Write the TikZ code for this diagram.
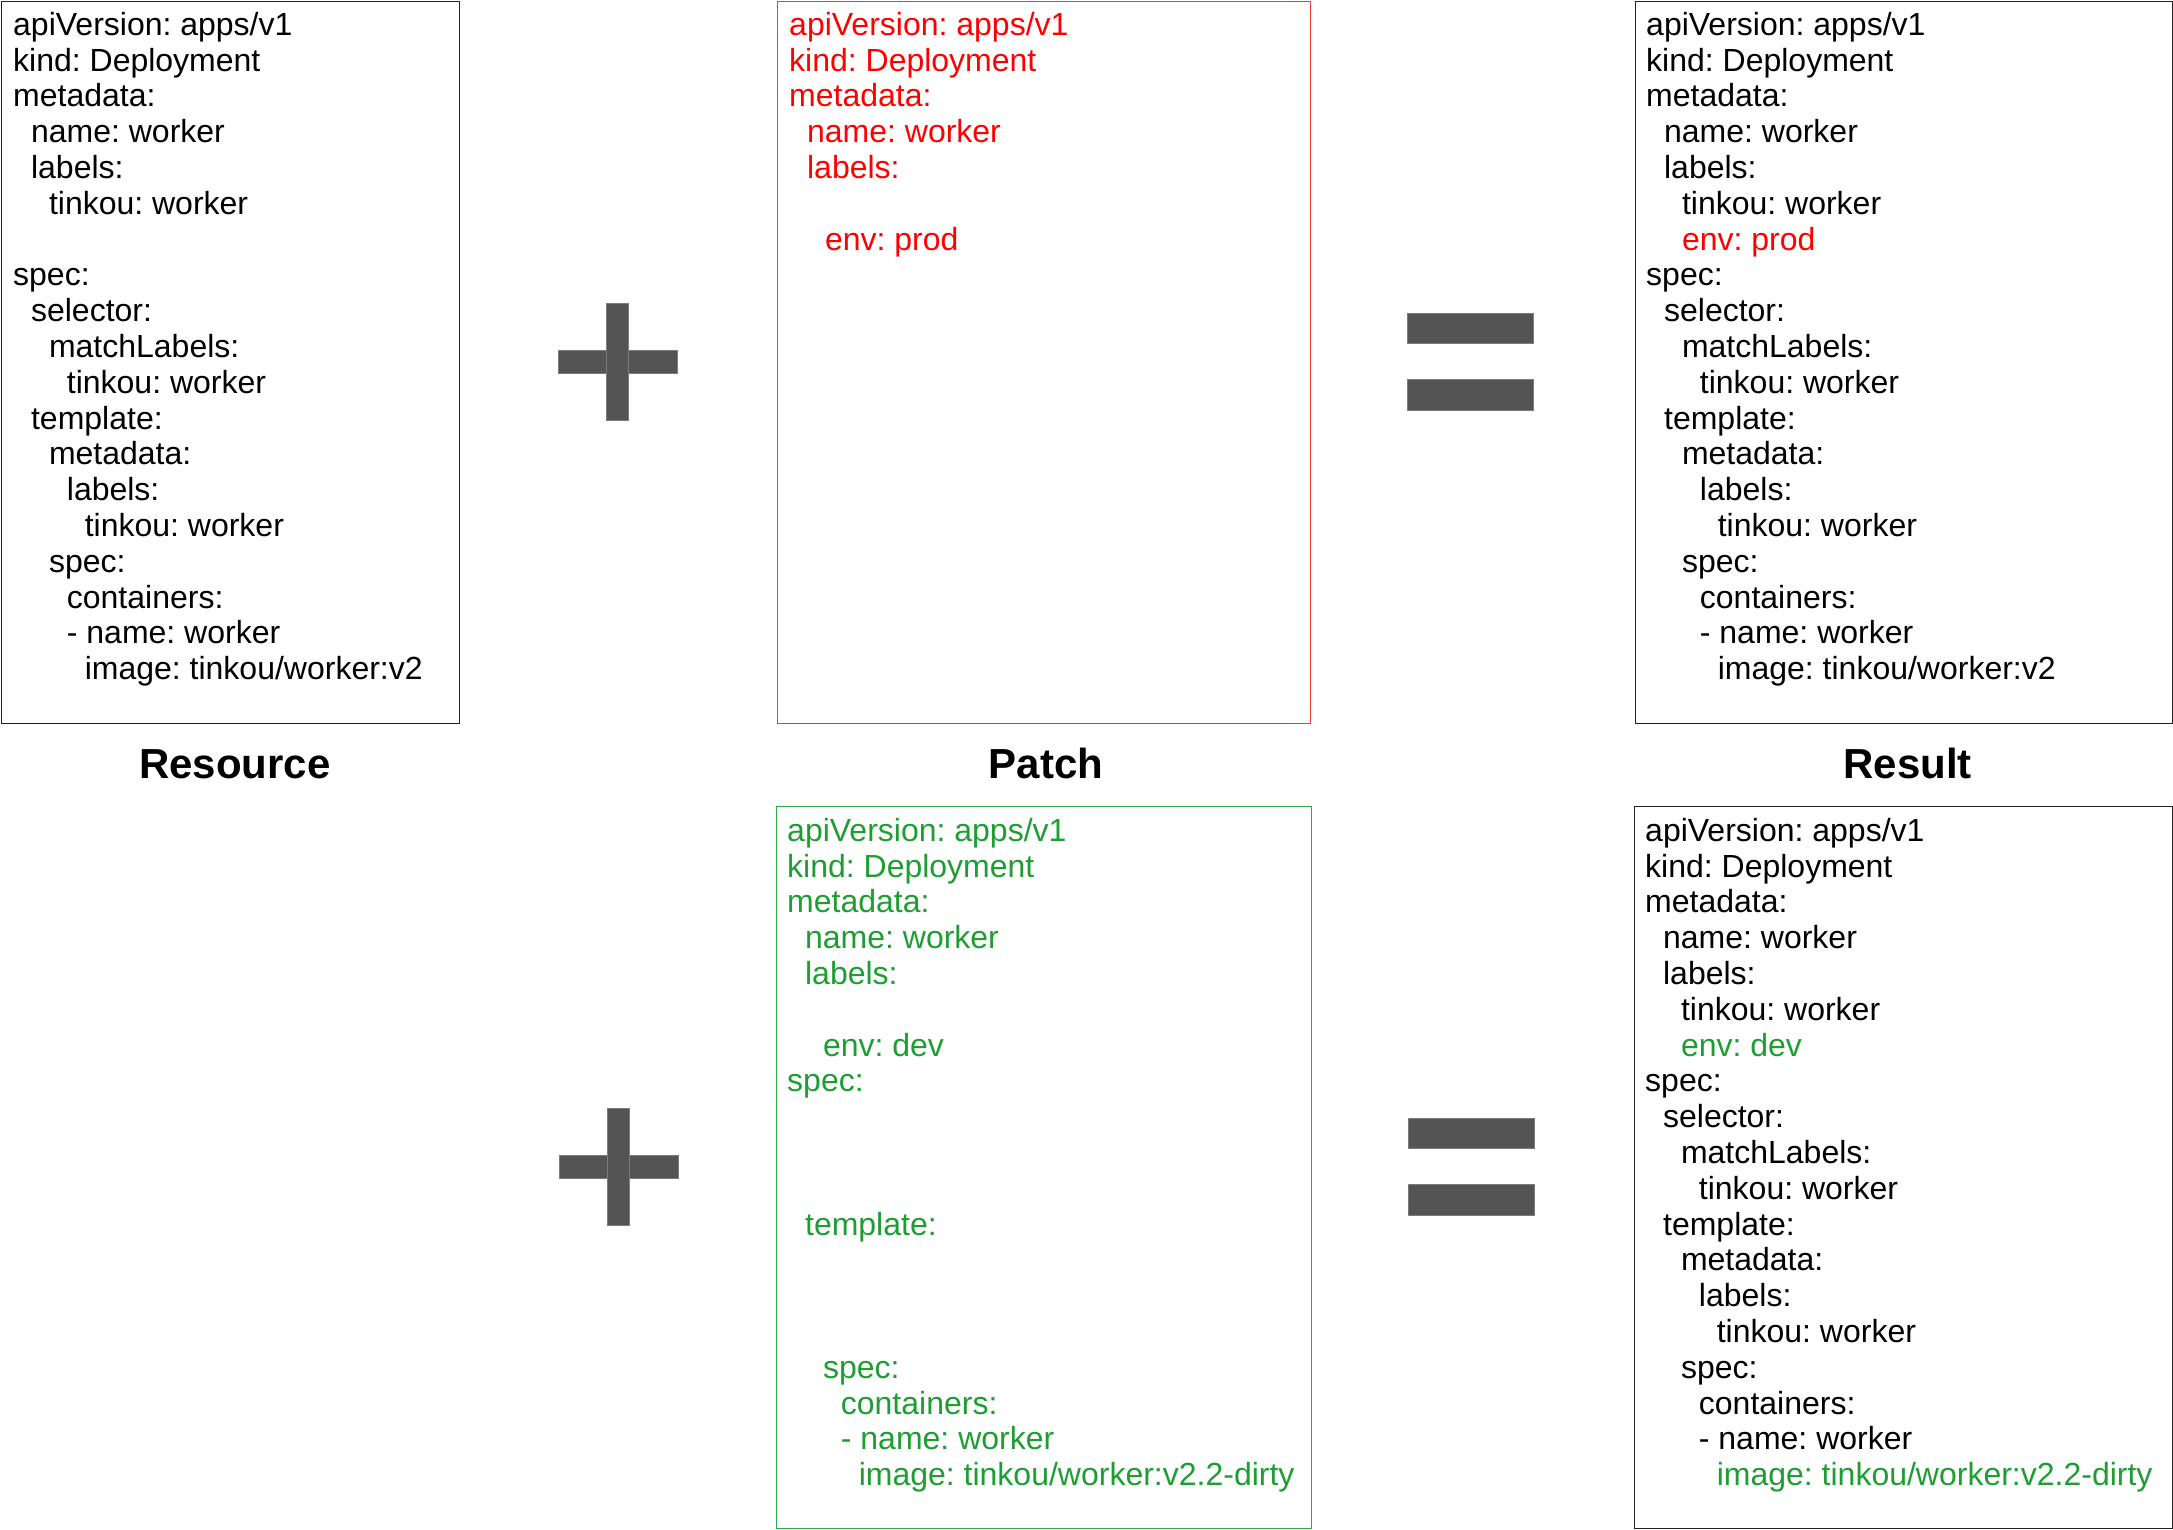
\documentclass[tikz,border=0pt]{standalone}
\usepackage{fontspec}
\setmainfont{Liberation Sans}
\frenchspacing
\newlength\lvw
\setlength\lvw{17.9pt}
\newcommand\lv[1]{\hspace*{#1\lvw}}
\newcommand\firststrut{\rule{0pt}{26pt}}
\definecolor{pred}{HTML}{FF0000}
\definecolor{predbox}{HTML}{F03A3A}
\definecolor{pgreen}{HTML}{1E9E32}
\definecolor{pgreenbox}{HTML}{2EAA46}
\definecolor{opgray}{HTML}{545454}
\definecolor{opedge}{HTML}{7C7C7C}
\definecolor{boxblack}{HTML}{222222}
\tikzset{
  yamlbox/.style={draw=#1, line width=1.4pt, anchor=north west, inner sep=0pt, rectangle},
  code/.style={anchor=north west, inner sep=0pt, align=left, font=\frenchspacing\fontsize{32}{35.8}\selectfont},
  title/.style={anchor=base, font=\bfseries\fontsize{42}{50}\selectfont},
  opbar/.style={fill=opgray, draw=opedge, line width=1pt}
}
\begin{document}
\begin{tikzpicture}[x=1pt,y=-1pt]
\useasboundingbox (0,0) rectangle (2173,1529);

% boxes
\node[yamlbox=boxblack, minimum width=458.3pt, minimum height=721.8pt] (resbox) at (0.7,0.7) {};
\node[yamlbox=predbox, minimum width=533pt, minimum height=721.8pt] (patchredbox) at (777,0.7) {};
\node[yamlbox=boxblack, minimum width=536.5pt, minimum height=721.8pt] (resulttopbox) at (1635,0.7) {};
\node[yamlbox=pgreenbox, minimum width=535pt, minimum height=721.5pt] (patchgreenbox) at (776,806) {};
\node[yamlbox=boxblack, minimum width=537.5pt, minimum height=721.5pt] (resultbotbox) at (1634,806) {};

% Resource
\node[code] (restext) at (13,9) {\firststrut apiVersion: apps/v1\\
kind: Deployment\\
metadata:\\
\lv{1}name: worker\\
\lv{1}labels:\\
\lv{2}tinkou: worker\\
\mbox{}\\
spec:\\
\lv{1}selector:\\
\lv{2}matchLabels:\\
\lv{3}tinkou: worker\\
\lv{1}template:\\
\lv{2}metadata:\\
\lv{3}labels:\\
\lv{4}tinkou: worker\\
\lv{2}spec:\\
\lv{3}containers:\\
\lv{3}- name: worker\\
\lv{4}image: tinkou/worker:v2};

% Patch (red)
\node[code, text=pred] (patchredtext) at (789,9) {\firststrut apiVersion: apps/v1\\
kind: Deployment\\
metadata:\\
\lv{1}name: worker\\
\lv{1}labels:\\
\mbox{}\\
\lv{2}env: prod};

% Result (top)
\node[code] (resulttoptext) at (1646,9) {\firststrut apiVersion: apps/v1\\
kind: Deployment\\
metadata:\\
\lv{1}name: worker\\
\lv{1}labels:\\
\lv{2}tinkou: worker\\
\lv{2}\textcolor{pred}{env: prod}\\
spec:\\
\lv{1}selector:\\
\lv{2}matchLabels:\\
\lv{3}tinkou: worker\\
\lv{1}template:\\
\lv{2}metadata:\\
\lv{3}labels:\\
\lv{4}tinkou: worker\\
\lv{2}spec:\\
\lv{3}containers:\\
\lv{3}- name: worker\\
\lv{4}image: tinkou/worker:v2};

% Patch (green)
\node[code, text=pgreen] (patchgreentext) at (787,815) {\firststrut apiVersion: apps/v1\\
kind: Deployment\\
metadata:\\
\lv{1}name: worker\\
\lv{1}labels:\\
\mbox{}\\
\lv{2}env: dev\\
spec:\\
\mbox{}\\
\mbox{}\\
\mbox{}\\
\lv{1}template:\\
\mbox{}\\
\mbox{}\\
\mbox{}\\
\lv{2}spec:\\
\lv{3}containers:\\
\lv{3}- name: worker\\
\lv{4}image: tinkou/worker:v2.2-dirty};

% Result (bottom)
\node[code] (resultbottext) at (1645,815) {\firststrut apiVersion: apps/v1\\
kind: Deployment\\
metadata:\\
\lv{1}name: worker\\
\lv{1}labels:\\
\lv{2}tinkou: worker\\
\lv{2}\textcolor{pgreen}{env: dev}\\
spec:\\
\lv{1}selector:\\
\lv{2}matchLabels:\\
\lv{3}tinkou: worker\\
\lv{1}template:\\
\lv{2}metadata:\\
\lv{3}labels:\\
\lv{4}tinkou: worker\\
\lv{2}spec:\\
\lv{3}containers:\\
\lv{3}- name: worker\\
\lv{4}\textcolor{pgreen}{image: tinkou/worker:v2.2-dirty}};

% titles
\node[title] (restitle) at (235,778) {Resource};
\node[title] (patchtitle) at (1046,778) {Patch};
\node[title] (resulttitle) at (1907.5,778) {Result};

% plus signs
\filldraw[opbar] (558,350) rectangle (677,373);
\filldraw[opbar] (606,303) rectangle (628,420);
\fill[opgray] (607,351) rectangle (627,372);
\filldraw[opbar] (559,1155) rectangle (678,1178);
\filldraw[opbar] (607,1108) rectangle (629,1225);
\fill[opgray] (608,1156) rectangle (628,1177);

% equals signs
\filldraw[opbar] (1407,313) rectangle (1533,343);
\filldraw[opbar] (1407,379) rectangle (1533,410);
\filldraw[opbar] (1408,1118) rectangle (1534,1148);
\filldraw[opbar] (1408,1184) rectangle (1534,1215);
\end{tikzpicture}
\end{document}
